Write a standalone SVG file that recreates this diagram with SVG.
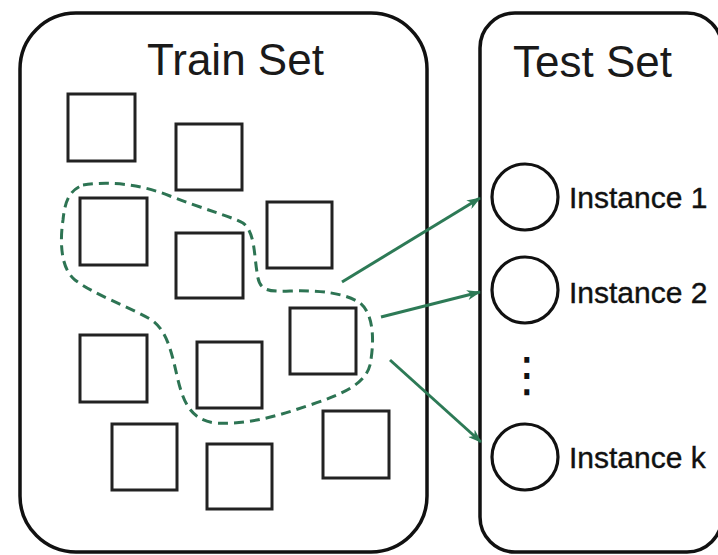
<svg xmlns="http://www.w3.org/2000/svg" width="718" height="555" viewBox="0 0 718 555">
  <style>
    .frame { fill: #ffffff; stroke: #111111; stroke-width: 3.5; }
    .sample { fill: #ffffff; stroke: #222222; stroke-width: 3; }
    .inst { fill: #ffffff; stroke: #111111; stroke-width: 3.2; }
    .title { font-family: "Liberation Sans", Arial, sans-serif; font-size: 44px; fill: #1a1a1a; }
    .label { font-family: "Liberation Sans", Arial, sans-serif; font-size: 30px; fill: #111111; stroke: #111111; stroke-width: 0.4; }
    .dots { font-family: "DejaVu Sans", sans-serif; font-size: 48px; fill: #111111; }
    .lasso { fill: none; stroke: #2d7453; stroke-width: 3; stroke-dasharray: 10 6; }
    .link { fill: none; stroke: #2d7a56; stroke-width: 3; }
  </style>
  <defs>
    <marker id="arrow" viewBox="0 0 14 10" refX="13" refY="5" markerWidth="14" markerHeight="10" markerUnits="userSpaceOnUse" orient="auto">
      <path d="M0,0 L14,5 L0,10 L4,5 Z" fill="#2d7a56"/>
    </marker>
  </defs>

  <rect width="718" height="555" fill="#ffffff"/>

  <!-- training set container -->
  <g id="train-set">
    <rect class="frame" x="20" y="13" width="407" height="539" rx="56" ry="56"/>
    <text class="title" x="147" y="75">Train Set</text>
  </g>

  <!-- training samples -->
  <g id="sample-1"><rect class="sample" x="68" y="94" width="67" height="67"/></g>
  <g id="sample-2"><rect class="sample" x="176" y="124" width="66" height="66"/></g>
  <g id="sample-3"><rect class="sample" x="80" y="198" width="67" height="67"/></g>
  <g id="sample-4"><rect class="sample" x="176" y="233" width="67" height="65"/></g>
  <g id="sample-5"><rect class="sample" x="267" y="202" width="65" height="66"/></g>
  <g id="sample-6"><rect class="sample" x="290" y="308" width="66" height="66"/></g>
  <g id="sample-7"><rect class="sample" x="80" y="335" width="67" height="67"/></g>
  <g id="sample-8"><rect class="sample" x="197" y="342" width="65" height="66"/></g>
  <g id="sample-9"><rect class="sample" x="112" y="424" width="65" height="66"/></g>
  <g id="sample-10"><rect class="sample" x="207" y="444" width="65" height="65"/></g>
  <g id="sample-11"><rect class="sample" x="323" y="411" width="66" height="67"/></g>

  <!-- neighbourhood outline -->
  <g id="neighbourhood">
    <path class="lasso" d="M 83,185 C 110,181 140,184 170,196 C 200,208 230,216 243,223 C 255,232 254,255 257,272 C 259,290 265,292 290,291 C 320,290 345,293 360,303 C 375,315 374,345 370,365 C 365,385 340,395 310,405 C 280,415 250,425 215,423 C 190,420 183,400 178,380 C 172,355 168,330 150,319 C 125,305 95,295 75,280 C 60,268 60,240 63,220 C 65,200 70,190 83,185 Z"/>
  </g>

  <!-- test set container -->
  <g id="test-set">
    <rect class="frame" x="480" y="13" width="242" height="539" rx="35" ry="35"/>
    <text class="title" x="513" y="77">Test Set</text>
  </g>

  <g id="instance-1">
    <circle class="inst" cx="525" cy="197" r="33"/>
    <text class="label" x="569" y="208">Instance 1</text>
  </g>
  <g id="instance-2">
    <circle class="inst" cx="525" cy="290" r="33"/>
    <text class="label" x="569" y="303">Instance 2</text>
  </g>
  <g id="ellipsis">
    <text class="dots" x="527" y="391" text-anchor="middle">⋮</text>
  </g>
  <g id="instance-k">
    <circle class="inst" cx="525" cy="457" r="33"/>
    <text class="label" x="569" y="468">Instance k</text>
  </g>

  <!-- connectors -->
  <g id="connectors">
    <line class="link" x1="342" y1="282" x2="480" y2="198" marker-end="url(#arrow)"/>
    <line class="link" x1="381" y1="317" x2="480" y2="292" marker-end="url(#arrow)"/>
    <line class="link" x1="390" y1="360" x2="481" y2="442" marker-end="url(#arrow)"/>
  </g>
</svg>
